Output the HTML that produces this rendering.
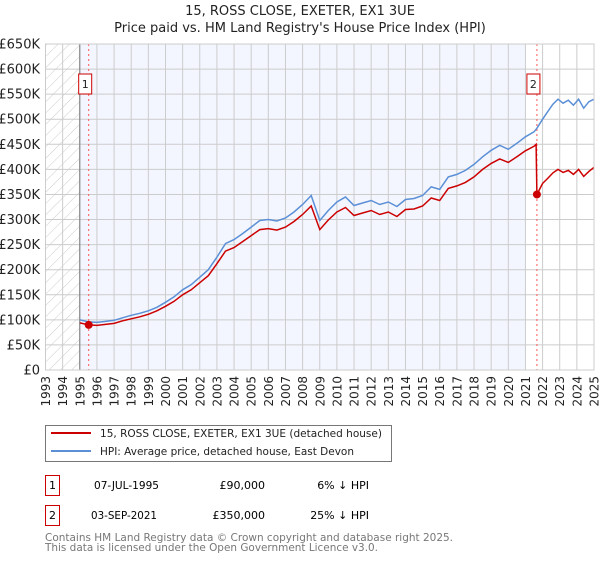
<!DOCTYPE html>
<html><head><meta charset="utf-8"><style>
body{margin:0;background:#fff;font-family:"Liberation Sans","DejaVu Sans",sans-serif}
svg text{font-family:"DejaVu Sans","Liberation Sans",sans-serif}
</style></head><body>
<svg id="c" width="600" height="560" xmlns="http://www.w3.org/2000/svg">
<defs><pattern id="hatch" width="8" height="8" patternUnits="userSpaceOnUse" patternTransform="rotate(45)"><line x1="0" y1="0" x2="0" y2="8" stroke="#ccc" stroke-width="1"/></pattern></defs>
<text x="300" y="15" text-anchor="middle" font-size="13" fill="#222">15, ROSS CLOSE, EXETER, EX1 3UE</text>
<text x="300" y="32" text-anchor="middle" font-size="13" fill="#222">Price paid vs. HM Land Registry's House Price Index (HPI)</text>
<g id="plot"></g>
<rect x="45.5" y="425.5" width="346" height="36" fill="#fff" stroke="#777"/>
<line x1="51" y1="433" x2="91" y2="433" stroke="#cc0000" stroke-width="2"/>
<text x="100" y="437" font-size="11" fill="#222" textLength="282" lengthAdjust="spacingAndGlyphs">15, ROSS CLOSE, EXETER, EX1 3UE (detached house)</text>
<line x1="51" y1="451" x2="91" y2="451" stroke="#5b8fd6" stroke-width="2"/>
<text x="100" y="455" font-size="11" fill="#222" textLength="254" lengthAdjust="spacingAndGlyphs">HPI: Average price, detached house, East Devon</text>
<rect x="45.5" y="475.5" width="14" height="20" fill="#fff" stroke="#cc0000"/>
<text x="52.5" y="489" text-anchor="middle" font-size="11">1</text>
<text x="94" y="489" font-size="11" textLength="65" lengthAdjust="spacingAndGlyphs">07-JUL-1995</text>
<text x="265" y="489" text-anchor="end" font-size="11">£90,000</text>
<text x="369" y="489" text-anchor="end" font-size="11">6% ↓ HPI</text>
<rect x="45.5" y="505.5" width="14" height="20" fill="#fff" stroke="#cc0000"/>
<text x="52.5" y="519" text-anchor="middle" font-size="11">2</text>
<text x="91" y="519" font-size="11" textLength="66" lengthAdjust="spacingAndGlyphs">03-SEP-2021</text>
<text x="265" y="519" text-anchor="end" font-size="11">£350,000</text>
<text x="369" y="519" text-anchor="end" font-size="11">25% ↓ HPI</text>
<text x="45" y="541" font-size="11" fill="#777" textLength="408" lengthAdjust="spacingAndGlyphs">Contains HM Land Registry data © Crown copyright and database right 2025.</text>
<text x="45" y="551" font-size="11" fill="#777" textLength="333" lengthAdjust="spacingAndGlyphs">This data is licensed under the Open Government Licence v3.0.</text>
</svg>
<script>
const hpiDates=[1995.0,1995.5,1996,1996.5,1997,1997.5,1998,1998.5,1999,1999.5,2000,2000.5,2001,2001.5,2002,2002.5,2003,2003.5,2004,2004.5,2005,2005.5,2006,2006.5,2007,2007.5,2008,2008.5,2009,2009.5,2010,2010.5,2011,2011.5,2012,2012.5,2013,2013.5,2014,2014.5,2015,2015.5,2016,2016.5,2017,2017.5,2018,2018.5,2019,2019.5,2020,2020.5,2021,2021.5,2021.67,2022,2022.3,2022.6,2022.9,2023.2,2023.5,2023.8,2024.1,2024.4,2024.7,2025.0];
const hpiValues=[100,96,95,97,99,104,109,113,118,125,135,146,160,170,185,200,225,252,260,272,285,298,300,297,303,315,330,348,298,318,335,345,328,333,338,330,335,326,340,342,348,365,360,385,390,398,410,425,438,448,440,452,465,475,482,500,515,530,540,532,538,528,540,522,535,540];
const redDates=[1995.0,1995.52,1996,1996.5,1997,1997.5,1998,1998.5,1999,1999.5,2000,2000.5,2001,2001.5,2002,2002.5,2003,2003.5,2004,2004.5,2005,2005.5,2006,2006.5,2007,2007.5,2008,2008.5,2009,2009.5,2010,2010.5,2011,2011.5,2012,2012.5,2013,2013.5,2014,2014.5,2015,2015.5,2016,2016.5,2017,2017.5,2018,2018.5,2019,2019.5,2020,2020.5,2021,2021.5,2021.62,2021.67,2022,2022.3,2022.6,2022.9,2023.2,2023.5,2023.8,2024.1,2024.4,2024.7,2025.0];
const redValues=[94,90,89,91,93,98,102,106,111,118,127,137,150,160,174,188,212,237,244,256,268,280,282,279,285,296,310,327,280,299,315,324,308,313,318,310,315,306,320,321,327,343,338,362,367,374,385,400,412,421,414,425,437,446,450,350,372,382,393,400,394,398,390,400,386,396,404];
const saleDates=[1995.52,2021.67];
const salePrices=[90,350];
const saleLabels=["1","2"];
const yTicks=[0,50,100,150,200,250,300,350,400,450,500,550,600,650];
const yTickLabels=["£0","£50K","£100K","£150K","£200K","£250K","£300K","£350K","£400K","£450K","£500K","£550K","£600K","£650K"];
const years=[1993,1994,1995,1996,1997,1998,1999,2000,2001,2002,2003,2004,2005,2006,2007,2008,2009,2010,2011,2012,2013,2014,2015,2016,2017,2018,2019,2020,2021,2022,2023,2024,2025];

const X0=45.5,X1=594,Y0=370,Y1=44;
const xs=t=>X0+(t-1993)/(2025-1993)*(X1-X0);
const ys=v=>Y0-v/650*(Y0-Y1);
const NS="http://www.w3.org/2000/svg";
const g=document.getElementById('plot');
function mk(tag,attrs){const e=document.createElementNS(NS,tag);for(const k in attrs)e.setAttribute(k,attrs[k]);g.appendChild(e);return e;}

let e=mk('rect',{x:X0,y:Y1,width:X1-X0,height:Y0-Y1,fill:'#fff'});


e=mk('rect',{x:X0,y:Y1,width:xs(1995)-X0,height:Y0-Y1,fill:'url(#hatch)'});


e=mk('rect',{x:xs(1995),y:Y1,width:xs(2021.0)-xs(1995),height:Y0-Y1,fill:'#f3f6fe'});



years.forEach((yr,i)=>{
  const l=mk('line',{x1:xs(yr),x2:xs(yr),y1:Y1,y2:Y0,stroke:'#ccc','stroke-width':1});
  
  
  const t=mk('text',{x:0,y:0,'font-size':12,fill:'#222','text-anchor':'end',transform:`translate(${xs(yr)+4.5},376) rotate(-90)`});
  t.textContent=yr;
  
  
});
yTicks.forEach((v,i)=>{
  const l=mk('line',{x1:X0,x2:X1,y1:ys(v),y2:ys(v),stroke:'#ccc','stroke-width':1});
  
  
  const t=mk('text',{x:40,y:ys(v)+4.5,'font-size':13,fill:'#222','text-anchor':'end'});
  t.textContent=yTickLabels[i];
  
  
});
e=mk('line',{x1:xs(1995),x2:xs(1995),y1:Y1,y2:Y0,stroke:'#777','stroke-width':1});



saleDates.forEach((d,i)=>{
  const l=mk('line',{x1:xs(d),x2:xs(d),y1:Y1,y2:Y0,stroke:'#f55','stroke-width':1,'stroke-dasharray':'2,3'});
  
  
});

const pts=(ds,vs)=>ds.map((d,i)=>xs(d).toFixed(1)+','+ys(vs[i]).toFixed(1)).join(' ');
e=mk('polyline',{points:pts(hpiDates,hpiValues),fill:'none',stroke:'#5b8fd6','stroke-width':1.5});


e=mk('polyline',{points:pts(redDates,redValues),fill:'none',stroke:'#cc0000','stroke-width':1.5});



saleDates.forEach((d,i)=>{
  const c=mk('circle',{cx:xs(d),cy:ys(salePrices[i]),r:4,fill:'#cc0000'});
  
  
  const r=mk('rect',{x:xs(d)-10,y:74,width:13,height:20,fill:'#fff',stroke:'#cc0000'});
  
  
  const t=mk('text',{x:xs(d)-3.5,y:88,'font-size':11,fill:'#222','text-anchor':'middle'});
  t.textContent=saleLabels[i];
  
  
});
e=mk('rect',{x:X0,y:Y1,width:X1-X0,height:Y0-Y1,fill:'none',stroke:'#ccc'});


</script>
</body></html>
